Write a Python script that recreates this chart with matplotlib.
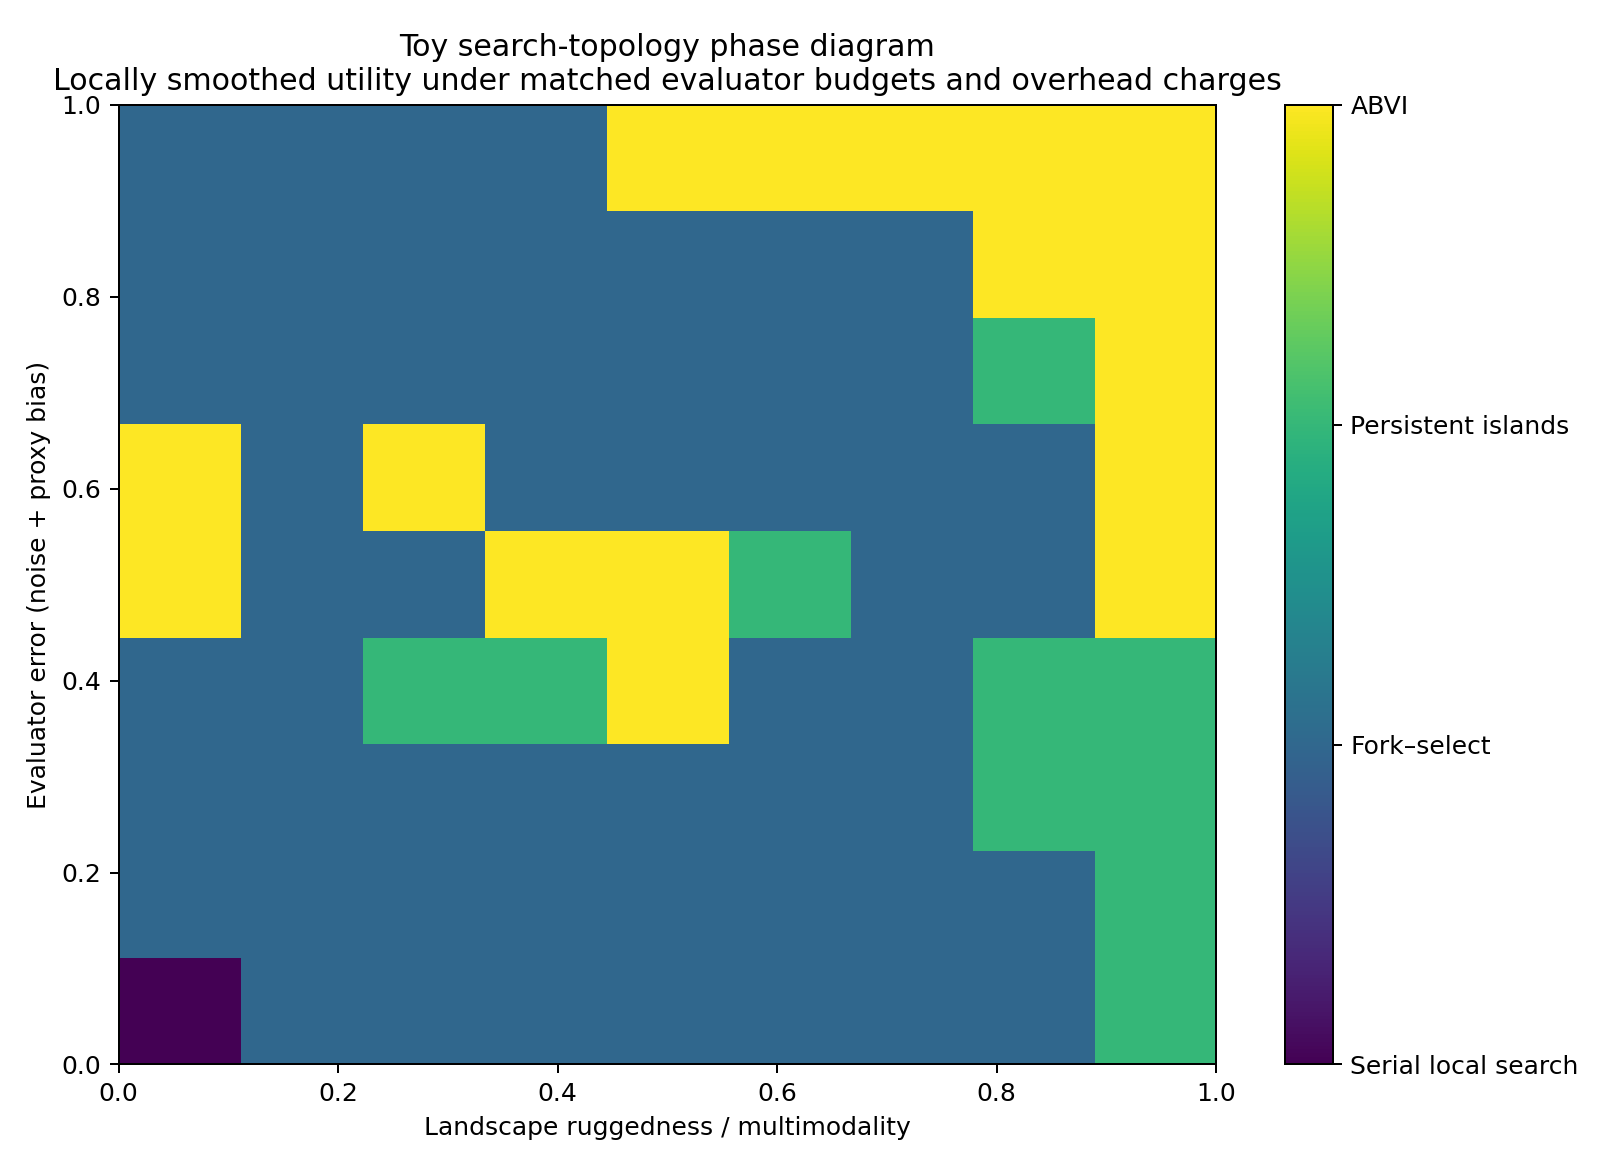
import numpy as np
import matplotlib.pyplot as plt

# ---------------------------------------------------
# Regime labels (colour index 0..3)
regimes = ["Serial local search", "Fork\u2013select", "Persistent islands", "ABVI"]

# grid of winning topology, rows from bottom (low evaluator error) to top
# 0 = serial, 1 = fork-select, 2 = islands, 3 = ABVI
row0 = [0, 1, 1, 1, 1, 1, 1, 1, 2]
row1 = [1, 1, 1, 1, 1, 1, 1, 1, 2]
row2 = [1, 1, 1, 1, 1, 1, 1, 2, 2]
row3 = [1, 1, 2, 2, 3, 1, 1, 2, 2]
row4 = [3, 1, 1, 3, 3, 2, 1, 1, 3]
row5 = [3, 1, 3, 1, 1, 1, 1, 1, 3]
row6 = [1, 1, 1, 1, 1, 1, 1, 2, 3]
row7 = [1, 1, 1, 1, 1, 1, 1, 3, 3]
row8 = [1, 1, 1, 1, 3, 3, 3, 3, 3]

grid = np.array([row0, row1, row2, row3, row4, row5, row6, row7, row8])

# ---------------------------------------------------
fig = plt.figure(figsize=(9, 6.5), dpi=180)
ax = fig.add_axes([0.0733, 0.0902, 0.6773, 0.8201])
cax = fig.add_axes([0.7932, 0.0902, 0.0296, 0.8201])

im = ax.imshow(grid, origin='lower', extent=[0, 1, 0, 1], aspect='auto',
               cmap='viridis', vmin=0, vmax=3, interpolation='nearest')
ax.set_title("Toy search-topology phase diagram\n"
             "Locally smoothed utility under matched evaluator budgets and overhead charges")
ax.set_xlabel("Landscape ruggedness / multimodality")
ax.set_ylabel("Evaluator error (noise + proxy bias)")

cb = fig.colorbar(im, cax=cax, ticks=[0, 1, 2, 3])
cb.ax.set_yticklabels(regimes)

fig.savefig("out.png", dpi=180)
